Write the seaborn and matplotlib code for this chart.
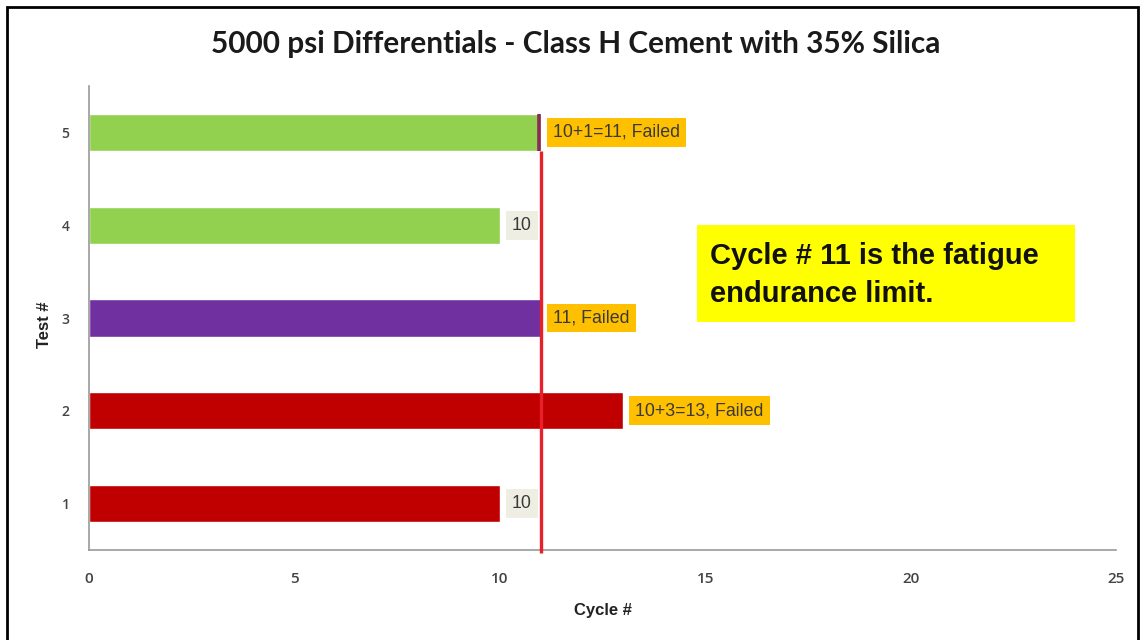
import matplotlib
matplotlib.use("Agg")
import matplotlib.pyplot as plt
from matplotlib.patches import Rectangle
from matplotlib import font_manager
import seaborn as sns
import pandas as pd

# Cycles reached by each test
tests = ["5", "4", "3", "2", "1"]
cycles = [11, 10, 11, 13, 10]
bar_colors = ["#92D050", "#92D050", "#7030A0", "#C00000", "#C00000"]
value_labels = ["10+1=11, Failed", "10", "11, Failed", "10+3=13, Failed", "10"]
failed = [True, False, True, True, False]
endurance_limit = 11
x_ticks = [0, 5, 10, 15, 20, 25]

sns.set_theme(style="white")
plt.rcParams["font.family"] = ["Liberation Sans", "DejaVu Sans"]

installed = {f.name for f in font_manager.fontManager.ttflist}
label_family = "Liberation Sans Narrow" if "Liberation Sans Narrow" in installed else "Liberation Sans"
label_size = 14 if label_family == "Liberation Sans Narrow" else 12.8

df = pd.DataFrame({"Test": tests, "Cycle": cycles})

fig = plt.figure(figsize=(11.42, 6.4), dpi=100)
ax = fig.add_axes([89 / 1142, 1 - 550 / 640, (1116 - 89) / 1142, (550 - 86) / 640])

sns.barplot(data=df, y="Test", x="Cycle", hue="Test", order=tests, hue_order=tests,
            palette=bar_colors, orient="h", width=0.40, legend=False,
            saturation=1, ax=ax, zorder=2)

# Value labels beside the bar ends
for i, (v, lab, f) in enumerate(zip(cycles, value_labels, failed)):
    face = "#FFC000" if f else "#EEEEE2"
    ax.text(v + 0.3, i, lab, va="center", ha="left", fontsize=label_size,
            color="#3a3a3a", family=[label_family, "DejaVu Sans"],
            bbox=dict(boxstyle="square,pad=0.33", facecolor=face, edgecolor="none"),
            zorder=4)

# Endurance-limit marker line: red below the top bar, darker where it crosses it
ax.plot([endurance_limit, endurance_limit], [4.53, 0.2], color="#E8202A",
        lw=2.4, zorder=3, clip_on=False, solid_capstyle="butt")
ax.plot([endurance_limit - 0.05, endurance_limit - 0.05], [0.2, -0.2], color="#8B2A55",
        lw=2.6, zorder=3, solid_capstyle="butt")

ax.set_xlim(0, 25)
ax.set_ylim(4.5, -0.5)
ax.set_xticks(x_ticks)
ax.set_xticklabels([str(t) for t in x_ticks])
ax.tick_params(axis="x", length=4, width=1, color="#888888", labelsize=11,
               labelcolor="#444444", pad=12, direction="out")
ax.tick_params(axis="y", length=0, labelsize=10, labelcolor="#444444", pad=14)
for lab in ax.get_xticklabels() + ax.get_yticklabels():
    lab.set_family(["Open Sans", "DejaVu Sans"])
    lab.set_fontweight("semibold")

for s in ["top", "right"]:
    ax.spines[s].set_visible(False)
for s in ["left", "bottom"]:
    ax.spines[s].set_color("#999999")
    ax.spines[s].set_linewidth(1.2)

ax.set_xlabel("Cycle #", fontsize=12, fontweight="bold", color="#222222", labelpad=12)
ax.set_ylabel("Test #", fontsize=12, fontweight="bold", color="#222222")
ax.yaxis.set_label_coords((52 - 89) / (1116 - 89), (550 - 325) / (550 - 86))

fig.text(576 / 1142, 1 - 44 / 640, "5000 psi Differentials - Class H Cement with 35% Silica",
         ha="center", va="center", fontsize=21.4, fontweight="bold", color="#1a1a1a",
         family=["Lato", "DejaVu Sans"])

# Callout box
fig.patches.append(Rectangle((697 / 1142, 1 - 322 / 640), (1075 - 697) / 1142, (322 - 225) / 640,
                             transform=fig.transFigure, facecolor="#FFFF00", edgecolor="none",
                             zorder=5))
fig.text(710 / 1142, 1 - 275 / 640, "Cycle # 11 is the fatigue\nendurance limit.",
         ha="left", va="center", fontsize=21, fontweight="bold", color="#111111",
         linespacing=1.5, zorder=6)

# Outer frame
fig.patches.append(Rectangle((7 / 1142, -0.05), (1138 - 7) / 1142, 1 - 7 / 640 + 0.05,
                             transform=fig.transFigure, facecolor="none", edgecolor="black",
                             lw=2, zorder=10))

fig.savefig("out.png", dpi=100)
